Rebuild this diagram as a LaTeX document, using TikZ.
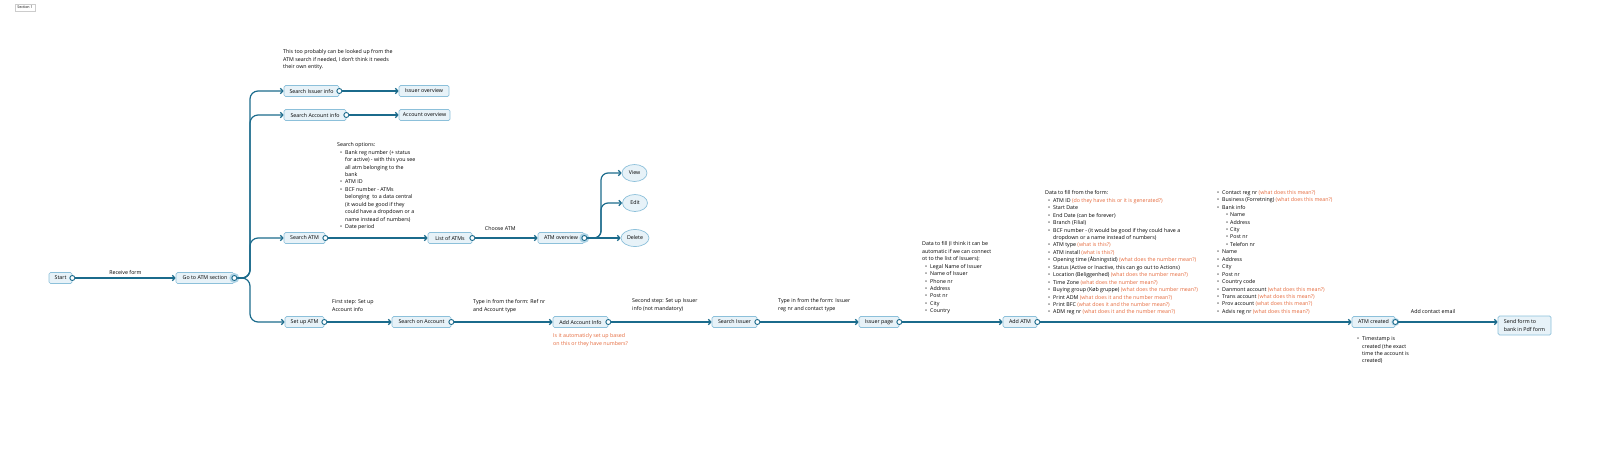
\documentclass[tikz,border=0pt]{standalone}
\usepackage{fontspec}
\setmainfont{Open Sans}
\usetikzlibrary{arrows.meta,shapes.geometric}

\definecolor{flowblue}{HTML}{1B6B8C}
\definecolor{boxfill}{HTML}{E7F2F8}
\definecolor{boxline}{HTML}{8CC0DA}
\definecolor{asknote}{HTML}{E4683A}

\newcommand{\smalltxt}{\fontsize{5.3}{7.45}\selectfont}
\newcommand{\itm}{\hspace*{3pt}\makebox[5pt][l]{\textbullet}}
\newcommand{\cnt}{\hspace*{8pt}}
\newcommand{\sitm}{\hspace*{12pt}\makebox[4pt][l]{\textbullet}}
\newcommand{\ask}[1]{\textcolor{asknote}{#1}}

\tikzset{
  stepbox/.style={draw=boxline, fill=boxfill, rounded corners=1.5pt, line width=0.7pt,
    minimum height=11pt, inner xsep=2pt, inner ysep=0pt, font=\smalltxt},
  actbox/.style={ellipse, draw=boxline, fill=boxfill, line width=0.7pt,
    minimum height=17pt, inner sep=0pt, font=\smalltxt},
  port/.style={circle, draw=flowblue, fill=white, line width=0.9pt, minimum size=5pt, inner sep=0pt},
  halo/.style={fill=boxline!70},
  flow/.style={draw=flowblue, line width=1.2pt, -{Straight Barb[length=2.5pt,width=5.5pt]}},
  lbl/.style={font=\smalltxt, inner sep=0pt},
  memo/.style={font=\smalltxt, inner sep=0pt, align=left, anchor=north west}
}

\begin{document}
\begin{tikzpicture}[x=1pt,y=-1pt]
\useasboundingbox (0,0) rectangle (1600,463);

\node[draw=gray!40, font=\fontsize{3.6}{4.5}\selectfont, inner xsep=2.5pt, inner ysep=2pt] (sect) at (25,7.5) {Section 1};

% main steps
\node[stepbox, minimum width=23pt] (start) at (60.5,278) {Start};
\node[stepbox, minimum width=58pt] (go) at (205,278) {Go to ATM section};
\node[stepbox, minimum width=55pt] (sii) at (311.5,91) {Search Issuer info};
\node[stepbox, minimum width=50pt] (iov) at (424,91) {Issuer overview};
\node[stepbox, minimum width=62pt] (sai) at (315,115) {Search Account info};
\node[stepbox, minimum width=51pt] (aov) at (424.5,115) {Account overview};
\node[stepbox, minimum width=41pt] (satm) at (304.5,238) {Search ATM};
\node[stepbox, minimum width=44pt] (list) at (450,238) {List of ATMs};
\node[stepbox, minimum width=46pt] (atmov) at (561,238) {ATM overview};
\node[actbox, minimum width=25pt] (view) at (634.5,173) {View};
\node[actbox, minimum width=25pt] (edit) at (635,203) {Edit};
\node[actbox, minimum width=28pt] (del) at (635,238) {Delete};
\node[stepbox, minimum width=39pt] (setup) at (304.5,322) {Set up ATM};
\node[stepbox, minimum width=59pt] (sacc) at (421.5,322) {Search on Account};
\node[stepbox, minimum width=55pt] (addacc) at (580.5,322) {Add Account Info};
\node[stepbox, minimum width=45pt] (siss) at (734.5,322) {Search Issuer};
\node[stepbox, minimum width=40pt] (ipage) at (879,322) {Issuer page};
\node[stepbox, minimum width=34pt] (addatm) at (1020,322) {Add ATM};
\node[stepbox, minimum width=43pt] (created) at (1373.5,322) {ATM created};
\node[stepbox, minimum width=53pt, minimum height=19pt, align=left, inner xsep=4pt] (send) at (1524.5,325.5) {Send form to\\bank in Pdf form};

% ports
\fill[halo] (go.east) circle (5pt);
\fill[halo] (atmov.east) circle (5pt);
\fill[halo] (created.east) circle (4pt);
\node[port] (startp) at (start.east) {};
\node[port] (gop) at (go.east) {};
\node[port] (siip) at (sii.east) {};
\node[port] (saip) at (sai.east) {};
\node[port] (satmp) at (satm.east) {};
\node[port] (listp) at (list.east) {};
\node[port] (atmovp) at (atmov.east) {};
\node[port] (setupp) at (setup.east) {};
\node[port] (saccp) at (sacc.east) {};
\node[port] (addaccp) at (addacc.east) {};
\node[port] (sissp) at (siss.east) {};
\node[port] (ipagep) at (ipage.east) {};
\node[port] (addatmp) at (addatm.east) {};
\node[port] (createdp) at (created.east) {};

\coordinate (trunk) at (250,278);
\coordinate (split) at (601,238);

% connectors
\draw[flow] (startp) -- node[lbl, midway, above=3pt] {Receive form} (start.east -| go.west);
\draw[flow, rounded corners=8pt] (gop) -- (trunk) |- (sii.west);
\draw[flow, rounded corners=8pt] (gop) -- (trunk) |- (sai.west);
\draw[flow, rounded corners=8pt] (gop) -- (trunk) |- (satm.west);
\draw[flow, rounded corners=8pt] (gop) -- (trunk) |- (setup.west);
\draw[flow] (siip) -- (iov.west);
\draw[flow] (saip) -- (aov.west);
\draw[flow] (satmp) -- (list.west);
\draw[flow] (listp) -- node[lbl, pos=0.4, above=7pt] {Choose ATM} (atmov.west);
\draw[flow, rounded corners=7pt] (atmovp) -- (split) |- (view.west);
\draw[flow, rounded corners=7pt] (atmovp) -- (split) |- (edit.west);
\draw[flow] (atmovp) -- (del.west);
\draw[flow] (setupp) -- (sacc.west);
\draw[flow] (saccp) -- (addacc.west);
\draw[flow] (addaccp) -- (siss.west);
\draw[flow] (sissp) -- (ipage.west);
\draw[flow] (ipagep) -- (addatm.west);
\draw[flow] (addatmp) -- (created.west);
\draw[flow] (createdp) -- node[lbl, pos=0.35, above=8pt] {Add contact email} (send.west |- created.east);

% notes
\node[memo] (lookup) at (283,49.5) {This too probably can be looked up from the\\ATM search if needed, I don’t think it needs\\their own entity.};
\node[memo] (options) at (337,142.5) {Search options:\\
\itm Bank reg number (+ status\\
\cnt for active) - with this you see\\
\cnt all atm belonging to the\\
\cnt bank\\
\itm ATM ID\\
\itm BCF number - ATMs\\
\cnt belonging\ \ to a data central\\
\cnt (it would be good if they\\
\cnt could have a dropdown or a\\
\cnt name instead of numbers)\\
\itm Date period};
\node[memo] (step1) at (332,299.5) {First step: Set up\\Account info};
\node[memo] (typeref) at (473,299.5) {Type in from the form: Ref nr\\and Account type};
\node[memo, text=asknote] (autoq) at (553,333.5) {Is it automaticly set up based\\on this or they have numbers?};
\node[memo] (step2) at (632,298.5) {Second step: Set up Issuer\\info (not mandatory)};
\node[memo] (typeiss) at (778,298.5) {Type in from the form: Issuer\\reg nr and contact type};
\node[memo] (issdata) at (922,241.5) {Data to fill (I think it can be\\
automatic if we can connect\\
ot to the list of Issuers):\\
\itm Legal Name of Issuer\\
\itm Name of Issuer\\
\itm Phone nr\\
\itm Address\\
\itm Post nr\\
\itm City\\
\itm Country};
\node[memo] (formdata) at (1045,190.5) {Data to fill from the form:\\
\itm ATM ID \ask{(do they have this or it is generated?)}\\
\itm Start Date\\
\itm End Date (can be forever)\\
\itm Branch (Filial)\\
\itm BCF number - (it would be good if they could have a\\
\cnt dropdown or a name instead of numbers)\\
\itm ATM type \ask{(what is this?)}\\
\itm ATM install \ask{(what is this?)}\\
\itm Opening time (Åbningstid) \ask{(what does the number mean?)}\\
\itm Status (Active or Inactive, this can go out to Actions)\\
\itm Location (Beliggenhed) \ask{(what does the number mean?)}\\
\itm Time Zone \ask{(what does the number mean?)}\\
\itm Buying group (Køb gruppe) \ask{(what does the number mean?)}\\
\itm Print ADM \ask{(what does it and the number mean?)}\\
\itm Print BFC \ask{(what does it and the number mean?)}\\
\itm ADM reg nr \ask{(what does it and the number mean?)}};
\node[memo] (formdata2) at (1214,190) {\itm Contact reg nr \ask{(what does this mean?)}\\
\itm Business (Forretning) \ask{(what does this mean?)}\\
\itm Bank info\\
\sitm Name\\
\sitm Address\\
\sitm City\\
\sitm Post nr\\
\sitm Telefon nr\\
\itm Name\\
\itm Address\\
\itm City\\
\itm Post nr\\
\itm Country code\\
\itm Danmont account \ask{(what does this mean?)}\\
\itm Trans account \ask{(what does this mean?)}\\
\itm Prov account \ask{(what does this mean?)}\\
\itm Advis reg nr \ask{(what does this mean?)}};
\node[memo] (stamp) at (1354,336.5) {\itm Timestamp is\\
\cnt created (the exact\\
\cnt time the account is\\
\cnt created)};
\end{tikzpicture}
\end{document}
